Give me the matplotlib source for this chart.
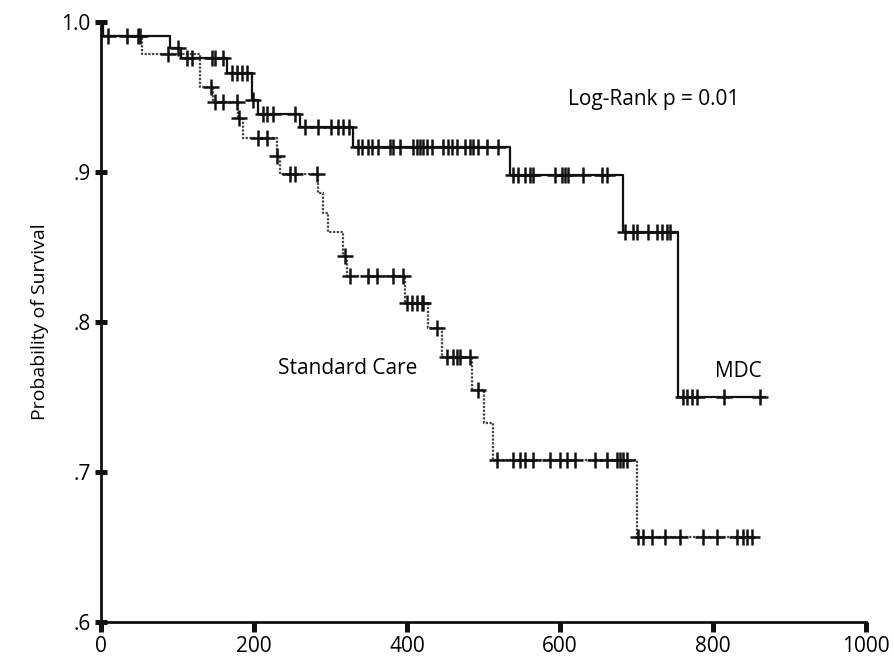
import numpy as np
import matplotlib
matplotlib.use("Agg")
import matplotlib.pyplot as plt

plt.rcParams['font.family'] = ['Open Sans', 'DejaVu Sans']

# Kaplan-Meier step data: event times (days) and survival after each event
mdc_times = [0, 2, 90, 105, 165, 197, 205, 260, 329, 535, 682, 754]
mdc_surv = [1.0, 0.991, 0.983, 0.976, 0.966, 0.948, 0.939, 0.930, 0.917, 0.898, 0.860, 0.750]
mdc_end = 868

sc_times = [0, 3, 54, 129, 146, 179, 186, 230, 234, 284, 290, 297, 316, 322,
            397, 427, 446, 485, 501, 512, 700]
sc_surv = [1.0, 0.991, 0.979, 0.957, 0.947, 0.936, 0.923, 0.911, 0.899, 0.886,
           0.873, 0.860, 0.844, 0.831, 0.813, 0.796, 0.777, 0.755, 0.733, 0.708, 0.657]
sc_end = 855

# Censored observations (days)
mdc_censored = [9, 34, 51, 101, 112, 119, 145, 149, 159, 171, 178, 184, 191,
                199, 212, 217, 225, 254,
                267, 284, 300, 310, 316, 324,
                336, 341, 349, 354, 362, 378, 382, 391, 408, 413, 417, 421, 426,
                433, 447, 454, 459, 465, 476, 482, 486, 493, 504, 519,
                538, 545, 554, 561, 565, 593, 603, 606, 610, 630, 655, 661,
                685, 695, 701, 715, 727, 733, 740, 744,
                761, 766, 772, 779, 815, 861]
sc_censored = [48, 88, 144, 149, 159, 178, 180, 205, 217, 230, 247, 254, 282,
               319, 325, 349, 361, 382, 395, 400, 406, 413, 420, 421, 439,
               452, 460, 465, 469, 482, 493,
               518, 538, 548, 554, 565, 587, 600, 609, 620, 646, 661, 674, 678, 682, 687,
               702, 708, 720, 737, 757, 787, 805, 831, 839, 844, 851]

x_ticks = [0, 200, 400, 600, 800, 1000]
y_ticks = [0.6, 0.7, 0.8, 0.9, 1.0]
y_tick_labels = ['.6', '.7', '.8', '.9', '1.0']


def step_value(times, surv, t):
    idx = np.searchsorted(times, t, side='right') - 1
    return np.asarray(surv)[idx]


fig = plt.figure(figsize=(8.94, 6.58), dpi=100)
ax = fig.add_axes([101 / 894, 36 / 658, 765 / 894, 600 / 658])

# Standard care: dotted step curve
sc_x = list(sc_times) + [sc_end]
sc_y = list(sc_surv) + [sc_surv[-1]]
ax.step(sc_x, sc_y, where='post', color='#444444', lw=1.6,
        linestyle=(0, (1, 0.7)), clip_on=False, zorder=3)
ax.plot(sc_censored, step_value(sc_times, sc_surv, sc_censored), linestyle='none',
        marker='+', ms=11, mew=1.8, color='#111111', clip_on=False, zorder=4)

# MDC: solid step curve
mdc_x = list(mdc_times) + [mdc_end]
mdc_y = list(mdc_surv) + [mdc_surv[-1]]
ax.step(mdc_x, mdc_y, where='post', color='#111111', lw=1.6, clip_on=False, zorder=3)
ax.plot(mdc_censored, step_value(mdc_times, mdc_surv, mdc_censored), linestyle='none',
        marker='+', ms=11, mew=1.8, color='#111111', clip_on=False, zorder=4)

tick_font = dict(family=['Liberation Sans Narrow', 'Open Sans', 'DejaVu Sans'], size=15)

ax.set_xlim(0, 1000)
ax.set_ylim(0.6, 1.0)
ax.set_xticks(x_ticks)
ax.set_xticklabels([str(v) for v in x_ticks], **tick_font)
ax.set_yticks(y_ticks)
ax.set_yticklabels(y_tick_labels, **tick_font)

for side in ('top', 'right'):
    ax.spines[side].set_visible(False)
for side in ('left', 'bottom'):
    ax.spines[side].set_linewidth(2.0)
    ax.spines[side].set_color('#111111')

ax.tick_params(axis='y', direction='inout', length=9, width=3.6, pad=3, color='#111111')
ax.tick_params(axis='x', direction='out', length=7, width=3.6, pad=3, color='#111111')

ax.set_ylabel('Probability of Survival', fontsize=14, labelpad=9)

ax.text(723, 0.948, 'Log-Rank p = 0.01', ha='center', va='center', fontsize=15)
ax.text(323, 0.769, 'Standard Care', ha='center', va='center', fontsize=15)
ax.text(833, 0.767, 'MDC', ha='center', va='center', fontsize=15)

fig.savefig('out.png', dpi=100)
